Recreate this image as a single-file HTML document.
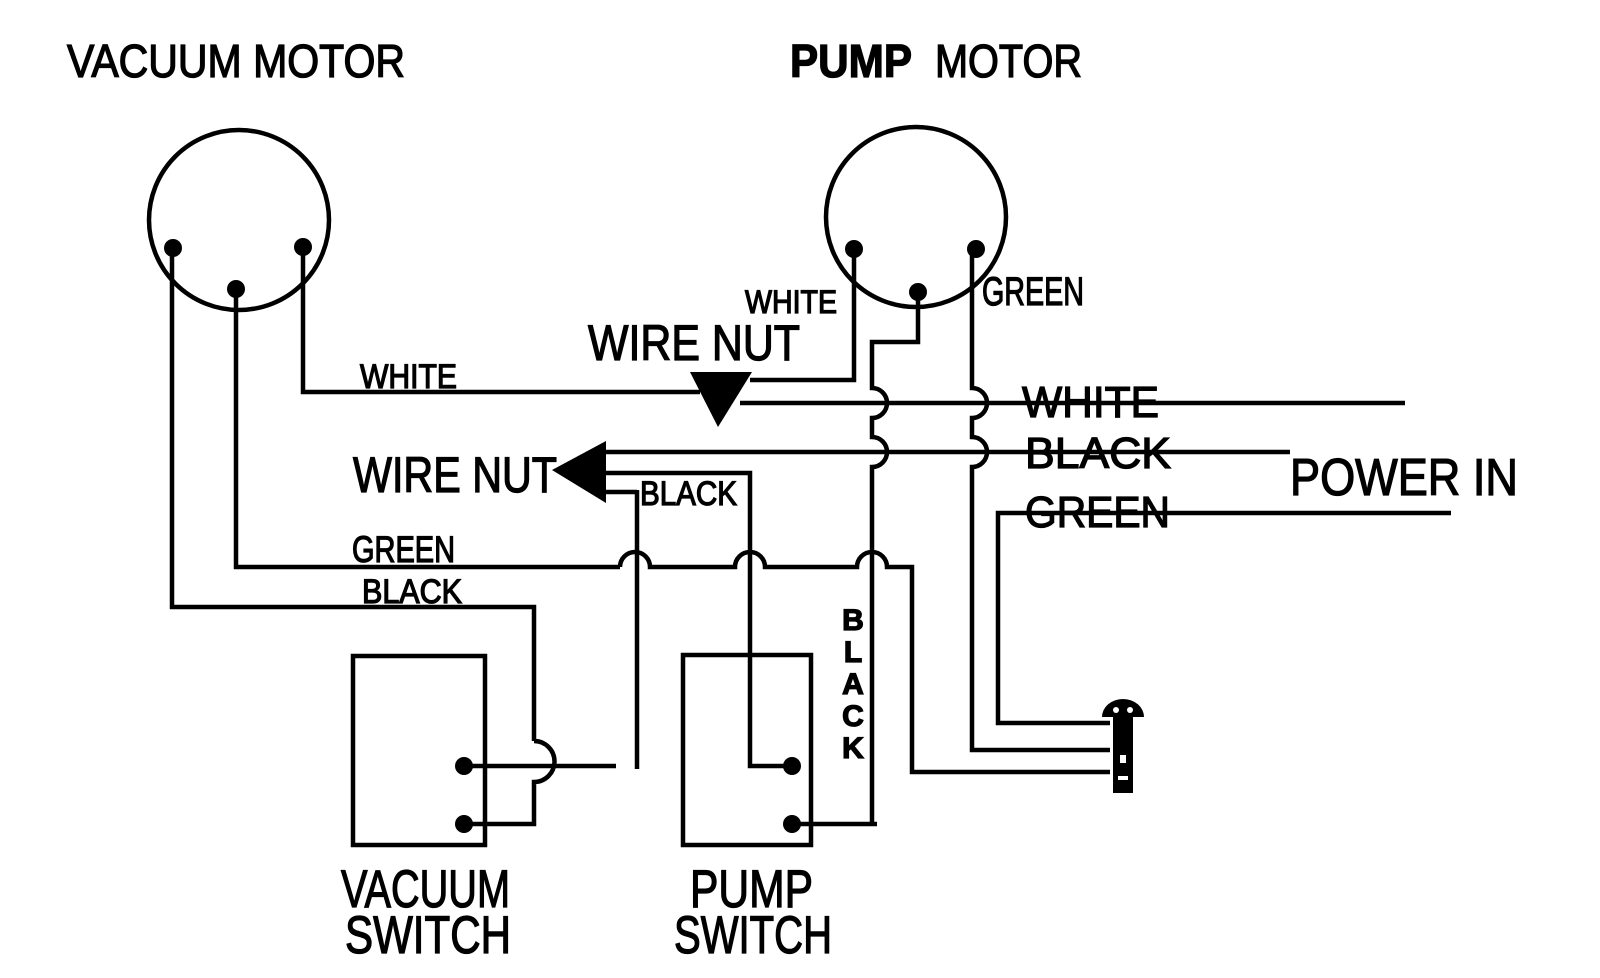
<!DOCTYPE html>
<html><head><meta charset="utf-8"><style>
html,body{margin:0;padding:0;background:#fff;}
svg{display:block;}
text{font-family:"Liberation Sans",sans-serif;fill:#000;stroke:#000;stroke-width:1.3;}
</style></head><body>
<svg width="1600" height="978" viewBox="0 0 1600 978" xmlns="http://www.w3.org/2000/svg">
<g fill="none" stroke="#000" stroke-width="4.5" stroke-linejoin="miter">
<circle cx="239" cy="220" r="90"/>
<circle cx="916" cy="217" r="90"/>
<polyline points="303,247 303,392 700,392"/>
<polyline points="236,289 236,567 620,567"/>
<path d="M620,567 a15,15 0 0 1 30,0 L735,567 a15,15 0 0 1 30,0 L857,567 a15,15 0 0 1 30,0 L912,567 L912,772 L1110,772"/>
<polyline points="172,248 172,607 534,607 534,741"/>
<path d="M534,741 a20,20 0 0 1 0,41 L534,824 L462,824"/>
<rect x="353" y="656" width="132" height="189"/>
<line x1="462" y1="766" x2="616" y2="766"/>
<polyline points="637,492 605,492"/>
<line x1="637" y1="490" x2="637" y2="769"/>
<rect x="683" y="655" width="128" height="190"/>
<polyline points="605,473 750,473 750,766 790,766"/>
<polyline points="790,824 877,824"/>
<polyline points="854,249 854,380 750,380"/>
<line x1="740" y1="403" x2="1405" y2="403"/>
<line x1="605" y1="452" x2="1290" y2="452"/>
<polyline points="1451,513 998,513 998,723 1110,723"/>
<path d="M918,292 L918,342 L872,342 L872,388 a15,15 0 0 1 0,30 L872,437 a15,15 0 0 1 0,30 L872,824"/>
<path d="M972,249 L972,388 a15,15 0 0 1 0,30 L972,437 a15,15 0 0 1 0,30 L972,750 L1110,750"/>
</g>
<g fill="#000">
<circle cx="173" cy="248" r="9"/><circle cx="236" cy="289" r="9"/><circle cx="303" cy="247" r="9"/>
<circle cx="854" cy="249" r="9"/><circle cx="918" cy="292" r="9"/><circle cx="976" cy="249" r="9"/>
<circle cx="464" cy="766" r="9"/><circle cx="464" cy="824" r="9"/>
<circle cx="792" cy="766" r="9"/><circle cx="792" cy="824" r="9"/>
<polygon points="690,372 752,372 718,427"/>
<polygon points="552,470 606,441 606,503"/>
<path d="M1102,717 a21,18 0 0 1 42,0 Z"/>
<rect x="1113" y="715" width="20" height="78"/>
</g>
<g fill="#fff"><rect x="1120" y="755" width="6" height="8"/><rect x="1118" y="776" width="10" height="4"/><circle cx="1116" cy="710" r="3"/><circle cx="1130" cy="710" r="3"/></g>
<g font-weight="normal">
<text x="67" y="77" font-size="46" textLength="338" lengthAdjust="spacingAndGlyphs">VACUUM  MOTOR</text>
<text x="790" y="77" font-size="46" font-weight="bold" textLength="122" lengthAdjust="spacingAndGlyphs">PUMP</text>
<text x="935" y="77" font-size="46" textLength="147" lengthAdjust="spacingAndGlyphs">MOTOR</text>
<text x="588" y="360" font-size="50" textLength="212" lengthAdjust="spacingAndGlyphs">WIRE  NUT</text>
<text x="353" y="492" font-size="50" textLength="204" lengthAdjust="spacingAndGlyphs">WIRE NUT</text>
<text x="745" y="313" font-size="32" textLength="92" lengthAdjust="spacingAndGlyphs">WHITE</text>
<text x="982" y="305" font-size="40" textLength="102" lengthAdjust="spacingAndGlyphs">GREEN</text>
<text x="360" y="388" font-size="34" textLength="97" lengthAdjust="spacingAndGlyphs">WHITE</text>
<text x="640" y="505" font-size="34" textLength="97" lengthAdjust="spacingAndGlyphs">BLACK</text>
<text x="352" y="562" font-size="37" textLength="103" lengthAdjust="spacingAndGlyphs">GREEN</text>
<text x="362" y="603" font-size="34" textLength="100" lengthAdjust="spacingAndGlyphs">BLACK</text>
<text x="1022" y="417" font-size="44" textLength="137" lengthAdjust="spacingAndGlyphs">WHITE</text>
<text x="1025" y="468" font-size="44" textLength="146" lengthAdjust="spacingAndGlyphs">BLACK</text>
<text x="1025" y="527" font-size="44" textLength="145" lengthAdjust="spacingAndGlyphs">GREEN</text>
<text x="1290" y="495" font-size="52" textLength="228" lengthAdjust="spacingAndGlyphs">POWER  IN</text>
<text x="341" y="907" font-size="53" textLength="169" lengthAdjust="spacingAndGlyphs">VACUUM</text>
<text x="345" y="953" font-size="53" textLength="166" lengthAdjust="spacingAndGlyphs" stroke-width="2">SWITCH</text>
<text x="690" y="907" font-size="53" textLength="123" lengthAdjust="spacingAndGlyphs" stroke-width="0.3">PUMP</text>
<text x="674" y="953" font-size="53" textLength="158" lengthAdjust="spacingAndGlyphs" stroke-width="2">SWITCH</text>
<g font-size="30" font-weight="bold" text-anchor="middle">
<text x="853" y="630">B</text><text x="853" y="662">L</text><text x="853" y="694">A</text><text x="853" y="726">C</text><text x="853" y="758">K</text>
</g>
</g>
</svg>
</body></html>
